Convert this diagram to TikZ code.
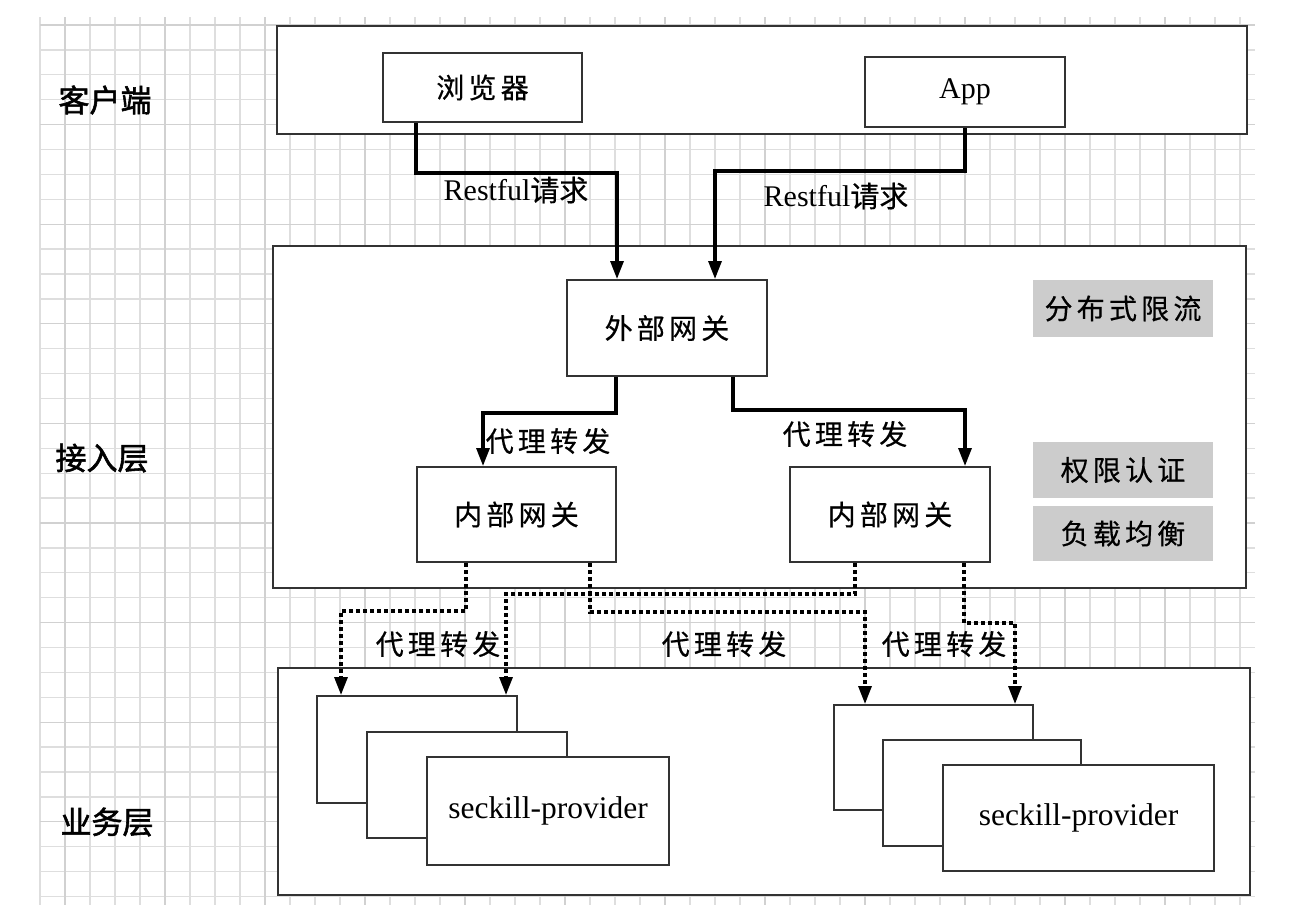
\documentclass[tikz,border=0pt]{standalone}
\usepackage{fontspec}
\setmainfont{Liberation Serif}
\newfontfamily\cjk[FakeBold=0.5]{Noto Sans CJK SC}
\newfontfamily\cjksp[LetterSpace=15,FakeBold=0.5]{Noto Sans CJK SC}
\newfontfamily\cjkbold[FakeBold=1.8]{Noto Sans CJK SC}
\usetikzlibrary{arrows.meta}
\begin{document}
\begin{tikzpicture}[x=1pt,y=-1pt,
  gridminor/.style={draw=black!13, line width=1.3pt},
  gridmajor/.style={draw=black!18, line width=1.3pt},
  box/.style={draw=black!80, line width=2pt, fill=white, inner sep=0pt},
  graybox/.style={fill=black!20, inner sep=0pt, minimum width=180pt},
  zh/.style={font=\cjksp\fontsize{28}{32}\selectfont},
  lat/.style={font=\fontsize{30}{36}\selectfont},
  latbig/.style={font=\fontsize{31.5}{36}\selectfont},
  layer/.style={font=\cjkbold\fontsize{31}{36}\selectfont},
  solidarr/.style={draw=black, line width=3.2pt, -{Triangle[length=18pt,width=13pt]}},
  dasharr/.style={draw=black, line width=3.2pt, dash pattern=on 4pt off 3pt, -{Triangle[length=18pt,width=13pt]}},
  lbl/.style={inner sep=0pt}
]
\useasboundingbox[fill=white] (0,0) rectangle (1297,918);

% background grid
\foreach \x in {40,65,...,1240} \draw[gridminor] (\x,17) -- (\x,905);
\foreach \k in {0,...,35} \draw[gridminor] (40,{25+24.9*\k}) -- (1255,{25+24.9*\k});
\foreach \x in {65,165,...,1165} \draw[gridmajor] (\x,17) -- (\x,905);
\foreach \k in {0,4,...,32} \draw[gridmajor] (40,{25+24.9*\k}) -- (1255,{25+24.9*\k});

% layer labels
\node[layer] (lclient) at (105,100) {客户端};
\node[layer] (laccess) at (102,458) {接入层};
\node[layer] (lbiz) at (107,822) {业务层};

% client layer
\node[box, minimum width=970pt, minimum height=108pt] (client) at (762,80) {};
\node[box, minimum width=199pt, minimum height=69pt, zh] (browser) at (482.5,87.5) {浏览器};
\node[box, minimum width=200pt, minimum height=70pt, lat] (app) at (965,92) {App};

% access layer
\node[box, minimum width=973pt, minimum height=342pt] (access) at (759.5,417) {};
\node[box, minimum width=200pt, minimum height=96pt, zh] (extgw) at (667,328) {外部网关};
\node[box, minimum width=199pt, minimum height=95pt, zh] (igwl) at (516.5,514.5) {内部网关};
\node[box, minimum width=200pt, minimum height=95pt, zh] (igwr) at (890,514.5) {内部网关};
\node[graybox, minimum height=57pt, zh] (g1) at (1123,308.5) {分布式限流};
\node[graybox, minimum height=56pt, zh] (g2) at (1123,470) {权限认证};
\node[graybox, minimum height=55pt, zh] (g3) at (1123,533.5) {负载均衡};

% business layer
\node[box, minimum width=972pt, minimum height=227pt] (biz) at (764,781.5) {};
\node[box, minimum width=200pt, minimum height=107pt] (pl1) at (417,749.5) {};
\node[box, minimum width=200pt, minimum height=106pt] (pl2) at (467,785) {};
\node[box, minimum width=242pt, minimum height=108pt, latbig] (pl3) at (548,811) {seckill-provider};
\node[box, minimum width=199pt, minimum height=105pt] (pr1) at (933.5,757.5) {};
\node[box, minimum width=198pt, minimum height=106pt] (pr2) at (982,793) {};
\node[box, minimum width=271pt, minimum height=106pt, latbig] (pr3) at (1078.5,818) {seckill-provider};

% helper x positions
\coordinate (xa) at (416,0);
\coordinate (xb) at (617,0);
\coordinate (xc) at (965,0);
\coordinate (xd) at (715,0);
\coordinate (xe) at (616,0);
\coordinate (xf) at (483,0);
\coordinate (xg) at (733,0);
\coordinate (xh) at (965,0);
\coordinate (xi) at (466,0);
\coordinate (xj) at (341,0);
\coordinate (xk) at (590,0);
\coordinate (xl) at (865,0);
\coordinate (xm) at (855,0);
\coordinate (xn) at (506,0);
\coordinate (xo) at (964,0);
\coordinate (xp) at (1015,0);

% solid connectors
\draw[solidarr] (browser.south -| xa) -- (416,173) -- (617,173) -- (extgw.north -| xb);
\draw[solidarr] (app.south -| xc) -- (965,171) -- (715,171) -- (extgw.north -| xd);
\draw[solidarr] (extgw.south -| xe) -- (616,413) -- (483,413) -- (igwl.north -| xf);
\draw[solidarr] (extgw.south -| xg) -- (733,410) -- (965,410) -- (igwr.north -| xh);

% dashed connectors
\draw[dasharr] (igwl.south -| xi) -- (466,611) -- (341,611) -- (pl1.north -| xj);
\draw[dasharr] (igwl.south -| xk) -- (590,612) -- (865,612) -- (pr1.north -| xl);
\draw[dasharr] (igwr.south -| xm) -- (855,594) -- (506,594) -- (pl1.north -| xn);
\draw[dasharr] (igwr.south -| xo) -- (964,623) -- (1015,623) -- (pr1.north -| xp);

% labels
\node[lbl, lat] (r1) at (516,190) {Restful{\cjk\fontsize{29}{32}\selectfont 请求}};
\node[lbl, lat] (r2) at (836,196) {Restful{\cjk\fontsize{29}{32}\selectfont 请求}};
\node[lbl, zh] (p1) at (548,441) {代理转发};
\node[lbl, zh] (p2) at (845,434) {代理转发};
\node[lbl, zh] (p3) at (438,644) {代理转发};
\node[lbl, zh] (p4) at (724,644) {代理转发};
\node[lbl, zh] (p5) at (944,644) {代理转发};
\end{tikzpicture}
\end{document}
